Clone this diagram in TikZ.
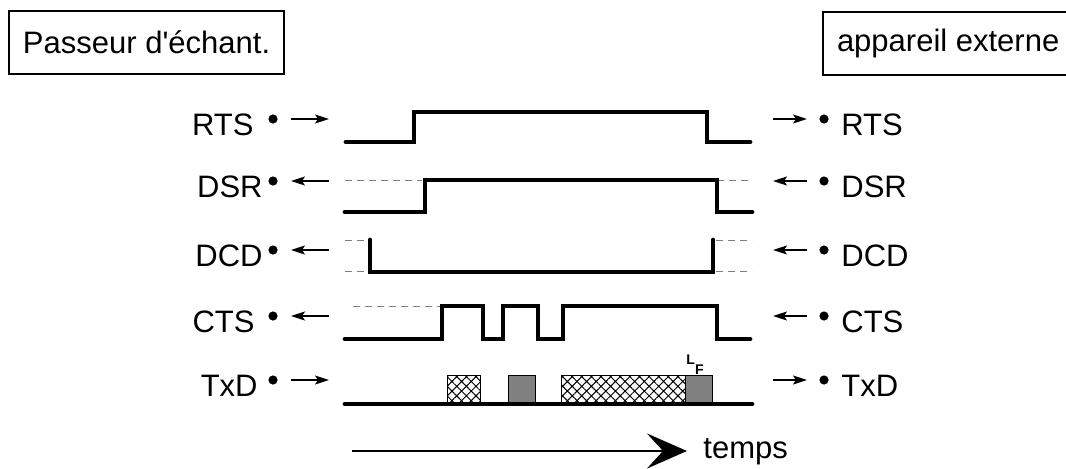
\documentclass[tikz,border=0pt]{standalone}
\usepackage{fontspec}
\setmainfont{Liberation Sans}[Ligatures=TeXOff]
\usetikzlibrary{arrows.meta,patterns.meta}

\begin{document}
\begin{tikzpicture}[x=0.5pt, y=0.5pt, font=\fontsize{15.5}{18}\selectfont,
    sigline/.style={line width=2.4pt, line cap=round, line join=miter},
    guide/.style={gray, line width=0.5pt, dash pattern=on 3.5pt off 2.5pt},
    pin/.style={circle, fill, inner sep=0pt, minimum size=4.6pt},
    pinarrow/.style={-{Stealth[length=7pt, width=4.5pt, inset=1.5pt]}, line width=0.8pt},
    devbox/.style={draw, line width=1pt, inner xsep=7pt, minimum height=31.5pt},
    frame/.style={line width=0.5pt},
    xhatch/.style={pattern={Hatch[angle=45, distance=3.4pt, line width=0.5pt]}}]

    \useasboundingbox (0,0) rectangle (1066,468);

    % ==========================================
    % The two devices
    % ==========================================
    \node[devbox, anchor=west] (sampler) at (8,425.5) {Passeur d'échant.};
    \node[devbox, anchor=west] (device) at (822,424.5) {appareil externe};

    % ==========================================
    % Pins on both sides: name / label / height / label edge / direction
    % (direction 1 = towards the device, -1 = towards the sampler)
    % ==========================================
    \foreach \sig/\txt/\yd/\xt/\dir in {rts/RTS/349/254/1, dsr/DSR/287/263/-1,
        dcd/DCD/218/263/-1, cts/CTS/152/255/-1, txd/TxD/88/258/1}
    {
        \node[pin] (\sig-lp) at (273,\yd) {};
        \node[pin] (\sig-rp) at (824,\yd) {};
        \node[anchor=base east, inner sep=0pt] (\sig-lt) at (\xt,\yd-16) {\txt};
        \node[anchor=base west, inner sep=0pt] (\sig-rt) at (841,\yd-16) {\txt};
        \coordinate (\sig-la) at ({310-19*\dir},\yd);
        \coordinate (\sig-lb) at ({310+19*\dir},\yd);
        \coordinate (\sig-ra) at ({790-17*\dir},\yd);
        \coordinate (\sig-rb) at ({790+17*\dir},\yd);
        \draw[pinarrow] (\sig-la) -- (\sig-lb);
        \draw[pinarrow] (\sig-ra) -- (\sig-rb);
    }

    % ==========================================
    % Signal traces
    % ==========================================
    % RTS
    \draw[sigline] (346,326) -- (414,326) -- (414,356) -- (707,356) -- (707,326) -- (750,326);

    % DSR
    \draw[guide] (345,288) -- (422,288);
    \draw[guide] (717,288) -- (752,288);
    \draw[sigline] (345,256) -- (425,256) -- (425,288) -- (717,288) -- (717,256) -- (752,256);

    % DCD
    \draw[guide] (345,228) -- (366,228);
    \draw[guide] (345,197) -- (366,197);
    \draw[guide] (716,228) -- (752,228);
    \draw[guide] (716,197) -- (752,197);
    \draw[sigline] (370,228) -- (370,196) -- (713,196) -- (713,228);

    % CTS
    \draw[guide] (353,162) -- (440,162);
    \draw[sigline] (345,129) -- (442,129) -- (442,162) -- (483,162) -- (483,129)
        -- (503,129) -- (503,162) -- (538,162) -- (538,129) -- (563,129)
        -- (563,162) -- (717,162) -- (717,129) -- (750,129);

    % TxD with data blocks
    \draw[frame, xhatch] (447,66) rectangle (480,93);
    \draw[frame, fill=gray] (508,66) rectangle (535,93);
    \draw[frame, xhatch] (561,66) rectangle (685,93);
    \draw[frame, fill=gray] (685,66) rectangle (712,93);
    \draw[sigline] (345,64) -- (752,64);
    \node[inner sep=0pt, font=\fontsize{7}{7}\selectfont\bfseries] (lf) at (695,103.5)
        {L\raisebox{-5pt}{F}};

    % ==========================================
    % Time axis
    % ==========================================
    \coordinate (t0) at (352,17);
    \coordinate (t1) at (687,17);
    \node[anchor=base west, inner sep=0pt] (temps) at (703,10) {temps};
    \draw[-{Stealth[length=20pt, width=17.5pt, inset=8pt]}, line width=1pt] (t0) -- (t1);

\end{tikzpicture}
\end{document}
